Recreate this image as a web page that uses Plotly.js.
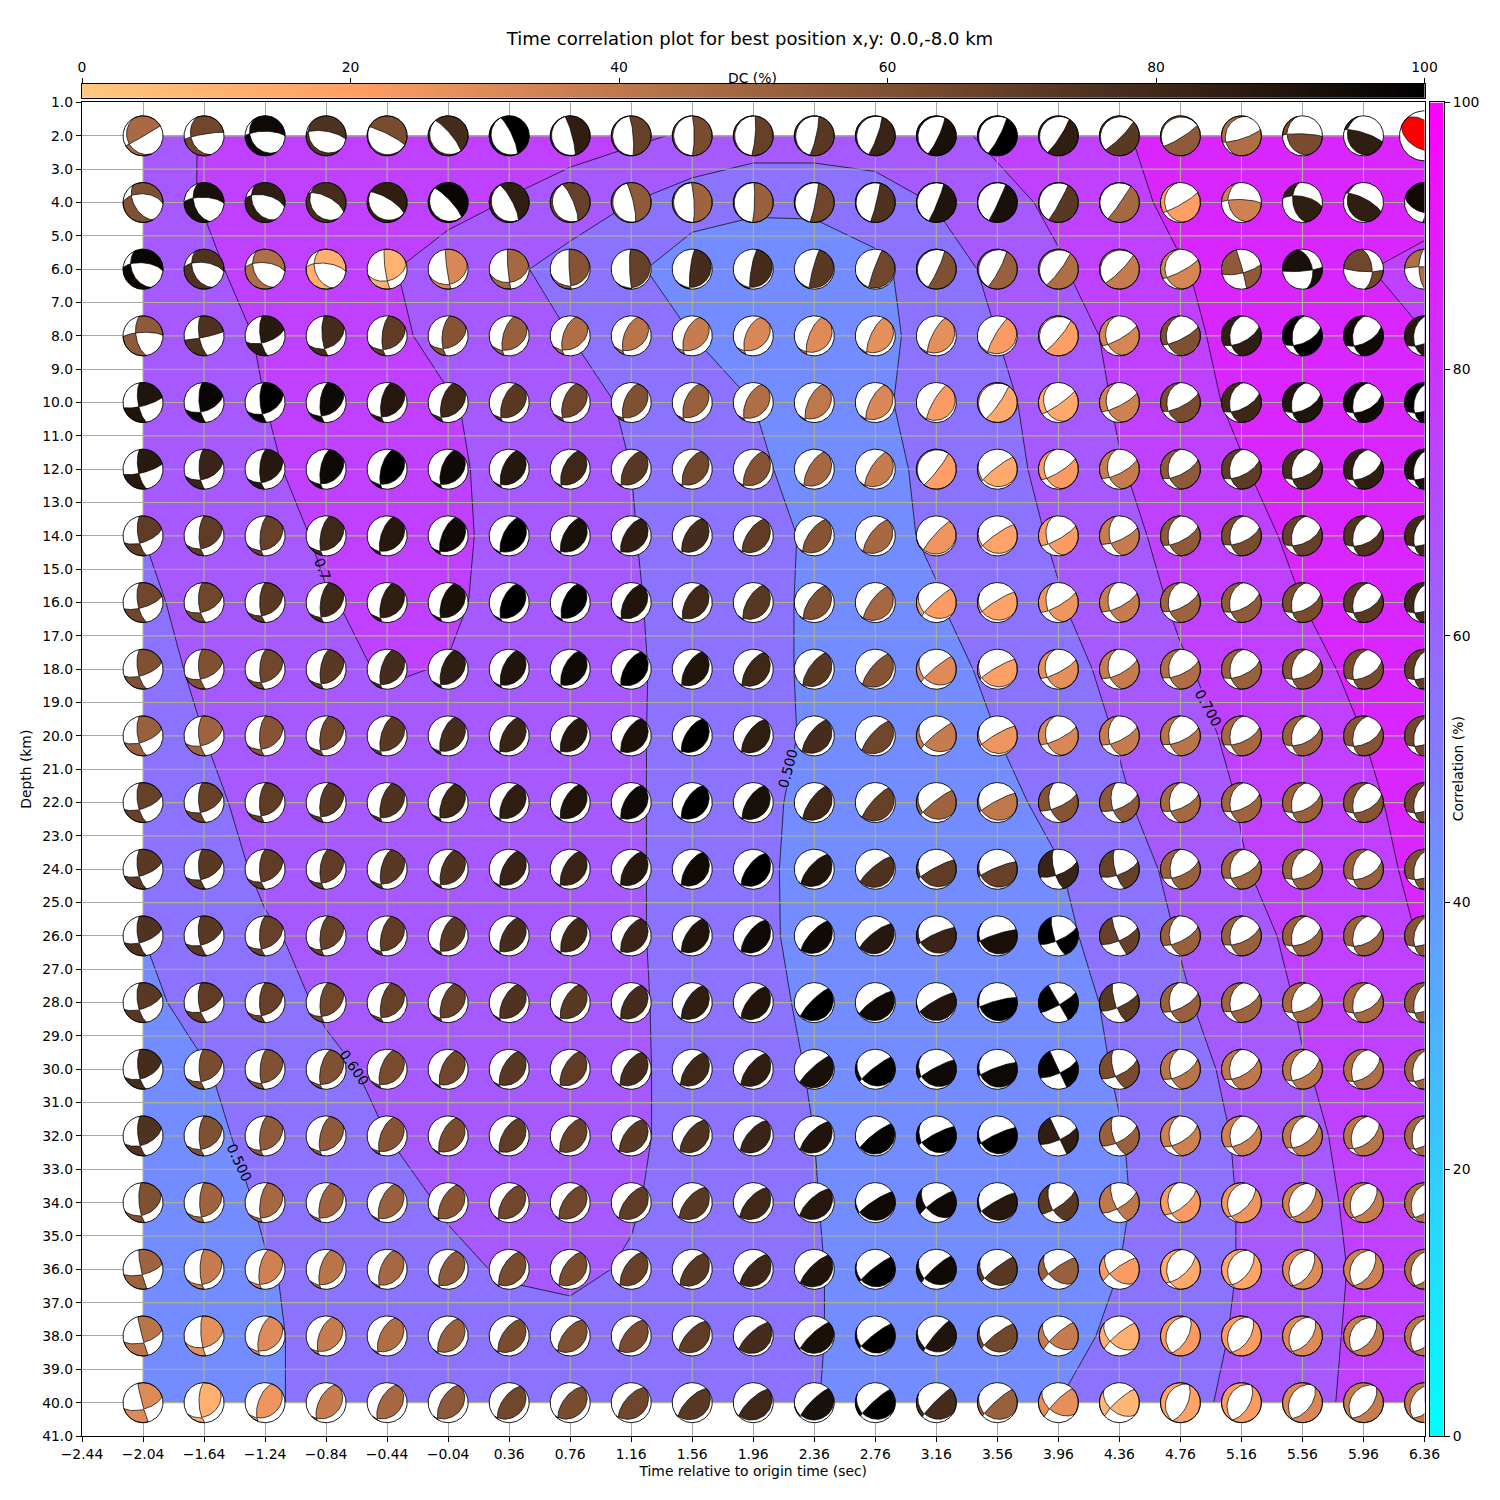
<!DOCTYPE html>
<html><head><meta charset="utf-8">
<script src="https://cdn.plot.ly/plotly-3.0.1.min.js"></script>
<style>html,body{margin:0;padding:0;background:#fff}</style></head>
<body><div id="chart" style="width:1500px;height:1500px"></div>
<script>
const timeSec=[-2.04,-1.64,-1.24,-0.84,-0.44,-0.04,0.36,0.76,1.16,1.56,1.96,2.36,2.76,3.16,3.56,3.96,4.36,4.76,5.16,5.56,5.96,6.36];
const depthKm=[2,4,6,8,10,12,14,16,18,20,22,24,26,28,30,32,34,36,38,40];
// correlation (0-1)
const corr=[
[.66,.705,.74,.75,.76,.76,.75,.74,.72,.685,.655,.655,.654,.67,.72,.76,.795,.82,.84,.85,.85,.86],
[.665,.705,.76,.775,.78,.735,.695,.655,.60,.55,.52,.52,.553,.605,.67,.72,.775,.82,.85,.86,.85,.84],
[.65,.68,.74,.755,.71,.65,.62,.56,.52,.438,.43,.44,.476,.56,.62,.69,.76,.795,.83,.85,.805,.77],
[.65,.68,.705,.75,.73,.66,.63,.60,.55,.50,.44,.44,.47,.54,.60,.66,.72,.77,.84,.85,.84,.802],
[.64,.67,.70,.745,.75,.71,.655,.64,.585,.55,.50,.445,.485,.535,.58,.64,.71,.77,.815,.85,.85,.85],
[.62,.65,.69,.725,.75,.72,.665,.635,.60,.55,.515,.47,.47,.525,.575,.625,.695,.745,.795,.84,.85,.86],
[.60,.63,.66,.715,.75,.73,.66,.63,.605,.55,.525,.49,.48,.51,.565,.61,.675,.73,.77,.82,.85,.86],
[.585,.625,.65,.695,.72,.72,.66,.63,.61,.56,.53,.485,.465,.495,.55,.595,.65,.715,.755,.80,.84,.86],
[.58,.61,.63,.67,.71,.695,.655,.63,.615,.56,.53,.485,.455,.47,.52,.575,.62,.69,.735,.775,.82,.84],
[.55,.60,.62,.64,.665,.675,.65,.625,.615,.555,.525,.49,.45,.45,.50,.555,.605,.66,.725,.76,.80,.83],
[.53,.59,.615,.63,.65,.66,.645,.625,.615,.555,.52,.48,.45,.445,.475,.525,.59,.64,.705,.745,.79,.82],
[.515,.56,.615,.625,.635,.645,.64,.625,.615,.555,.515,.48,.44,.44,.445,.495,.565,.62,.695,.735,.78,.815],
[.50,.53,.59,.625,.63,.635,.63,.625,.615,.555,.52,.475,.435,.43,.43,.475,.55,.605,.665,.725,.77,.805],
[.48,.53,.57,.61,.625,.63,.625,.62,.62,.555,.525,.485,.435,.425,.425,.46,.52,.59,.64,.71,.75,.79],
[.46,.495,.54,.585,.615,.63,.63,.625,.62,.56,.525,.495,.43,.42,.42,.445,.51,.565,.625,.695,.735,.77],
[.45,.48,.525,.55,.60,.625,.63,.625,.62,.56,.52,.50,.435,.42,.42,.43,.495,.555,.61,.685,.72,.75],
[.44,.46,.51,.535,.565,.61,.625,.625,.61,.55,.52,.505,.44,.42,.42,.42,.49,.55,.605,.67,.72,.74],
[.43,.45,.495,.52,.55,.58,.61,.62,.59,.54,.515,.51,.45,.425,.425,.43,.50,.55,.605,.66,.715,.735],
[.42,.44,.49,.52,.53,.545,.56,.57,.56,.54,.52,.51,.45,.43,.43,.46,.525,.565,.61,.665,.72,.73],
[.42,.44,.49,.52,.53,.54,.55,.55,.545,.535,.52,.505,.45,.43,.45,.50,.54,.57,.625,.67,.725,.74]];
// DC percentage (null = best solution, drawn red)
const dcPct=[
[47,65,95,75,62,78,100,85,68,62,68,72,82,92,100,85,72,55,45,62,85,null],
[60,92,85,78,85,97,85,68,55,50,52,65,75,90,92,72,48,20,35,85,85,95],
[97,75,45,12,10,32,48,58,68,78,78,72,65,60,52,45,38,33,55,92,65,45],
[55,75,87,78,70,58,52,45,42,38,32,30,28,28,22,20,33,60,85,100,95,88],
[90,97,100,95,88,80,72,65,60,52,45,40,32,22,15,15,35,62,80,90,95,100],
[87,82,88,95,100,95,88,80,72,65,58,48,38,20,15,22,38,55,70,78,85,92],
[70,70,68,80,88,95,100,92,85,78,70,58,48,25,18,22,38,55,62,68,75,80],
[65,65,72,80,85,92,100,98,90,80,72,60,48,22,18,25,38,50,55,62,72,80],
[60,60,65,72,78,85,90,95,100,90,80,72,58,30,20,28,38,45,52,58,62,70],
[52,50,58,65,72,78,82,88,92,100,85,78,65,38,25,32,38,42,48,52,58,65],
[68,68,70,72,75,80,85,90,95,100,92,80,68,50,40,58,55,48,50,52,58,65],
[72,72,70,70,72,75,82,82,88,95,100,90,75,70,68,82,68,52,50,52,52,60],
[75,72,68,68,70,72,78,80,82,90,95,95,88,82,92,100,68,52,52,52,52,58],
[72,70,68,65,68,68,75,72,78,85,90,100,95,90,100,100,72,52,50,48,48,55],
[78,62,60,60,62,65,72,70,78,80,85,92,100,95,95,98,62,42,40,42,45,50],
[75,60,55,55,58,62,70,68,72,75,82,90,98,100,100,85,52,35,35,40,42,48],
[60,50,48,50,52,58,65,65,70,72,80,88,95,95,88,72,40,22,25,35,38,45],
[50,38,35,42,48,55,62,62,68,72,80,90,100,95,72,52,22,15,18,30,35,45],
[42,28,30,38,45,52,62,60,62,70,78,92,100,90,65,38,12,22,22,30,38,42],
[30,12,25,38,48,55,65,62,65,72,80,92,100,78,52,28,8,18,22,32,38,40]];
// azimuth (deg clockwise from up) where a coloured lobe begins
const lobeStartAz=[
[335,340,325,310,300,320,335,345,355,0,5,13,20,25,28,33,45,58,72,92,108,292],
[330,342,330,325,305,320,335,340,350,0,5,15,17,25,28,32,38,60,92,102,118,285],
[335,335,335,340,352,352,355,357,358,7,10,15,20,25,28,37,45,62,76,85,93,272],
[350,350,352,355,5,5,15,18,20,22,22,22,25,27,30,40,60,63,62,65,62,62],
[350,355,355,5,10,15,20,18,20,22,25,25,28,30,35,55,62,63,63,65,65,65],
[350,358,2,10,15,18,22,24,27,27,28,30,32,38,52,58,62,62,63,65,63,63],
[350,0,5,10,18,22,25,27,30,30,33,35,37,42,55,60,65,62,65,65,65,65],
[350,355,0,8,15,18,22,22,27,27,30,33,37,47,58,60,62,63,63,65,65,65],
[350,355,2,8,15,18,22,25,30,30,33,35,40,50,60,62,62,65,65,65,65,65],
[350,355,2,8,15,20,25,27,30,32,35,37,42,50,60,63,63,65,65,65,65,65],
[350,355,2,8,15,20,25,27,30,32,33,35,42,52,62,65,65,65,65,65,65,65],
[350,355,0,5,12,18,25,27,30,32,37,42,50,62,68,68,68,65,65,65,65,65],
[350,352,0,5,12,18,25,25,30,32,37,42,52,65,72,65,65,62,65,65,65,65],
[350,352,0,5,12,18,25,27,30,32,37,45,55,60,75,60,65,62,65,65,65,65],
[352,358,3,12,18,22,27,28,32,35,38,48,52,62,70,65,62,60,60,58,55,55],
[352,0,5,12,20,25,28,30,35,37,40,45,52,62,65,65,60,58,58,55,52,50],
[355,0,8,15,22,27,30,33,37,40,42,47,57,55,60,55,58,52,45,42,42,42],
[348,0,10,15,20,25,30,32,32,37,42,45,52,48,52,55,55,48,38,35,35,35],
[345,355,15,20,25,30,33,37,37,42,47,47,52,40,52,48,50,30,35,40,40,40],
[345,358,20,27,28,30,35,37,40,45,47,45,48,45,48,45,48,25,30,38,40,40]];
// signed radius of the lobe's first nodal curve at its widest
const curveBulge=[
[.8,.65,.7,.8,.93,-.15,-.15,-.1,-.1,-.1,-.1,-.1,-.1,-.12,-.1,-.1,-.1,-.1,-.15,.1,.15,.55],
[.45,.5,.6,.75,.85,.9,.88,.88,.92,.93,.95,.96,.96,.96,.97,.96,.97,-.1,.15,.3,.2,.5],
[.55,.55,.55,.55,.1,.06,.06,.05,.08,.1,.1,.07,.06,-.08,-.1,-.1,-.1,-.12,-.2,-.1,-.12,-.12],
[.35,.25,.25,.2,.25,.3,.3,.35,.35,.37,.37,.25,.22,.2,.12,-.1,-.15,-.17,-.3,-.35,-.35,-.35],
[.25,.25,.25,.3,.3,.33,.33,.35,.35,.37,.35,.3,.25,.15,-.1,-.1,-.15,-.2,-.3,-.37,-.4,-.4],
[.25,.25,.27,.28,.3,.33,.33,.35,.35,.35,.3,.28,.22,-.08,.1,-.15,-.2,-.25,-.3,-.37,-.4,-.4],
[.25,.25,.25,.28,.3,.3,.3,.32,.33,.33,.3,.28,.25,.1,.1,-.15,-.2,-.25,-.3,-.37,-.4,-.4],
[.27,.27,.27,.28,.3,.33,.35,.35,.35,.33,.3,.28,.2,.1,.1,-.15,-.2,-.25,-.3,-.37,-.4,-.4],
[.27,.27,.27,.28,.3,.32,.33,.33,.32,.32,.3,.25,.2,.1,.1,-.15,-.22,-.25,-.3,-.37,-.4,-.4],
[.27,.27,.28,.3,.3,.32,.33,.33,.32,.32,.3,.25,.2,.1,.1,-.15,-.22,-.25,-.3,-.37,-.4,-.4],
[.27,.27,.28,.3,.3,.32,.33,.33,.32,.32,.3,.22,.15,.1,.1,-.2,-.27,-.27,-.3,-.37,-.4,-.4],
[.27,.27,.28,.3,.3,.32,.32,.33,.33,.3,.28,.25,.15,.1,.1,-.25,-.25,-.3,-.3,-.37,-.4,-.4],
[.27,.27,.28,.3,.3,.32,.33,.33,.33,.3,.28,.22,.18,.12,.1,-.2,-.22,-.25,-.3,-.37,-.4,-.4],
[.27,.27,.28,.3,.3,.32,.33,.33,.33,.3,.28,.15,.15,.12,.1,-.12,-.2,-.25,-.3,-.37,-.4,-.4],
[.25,.25,.25,.28,.32,.33,.33,.33,.33,.3,.27,.12,.1,.1,.1,-.2,-.25,-.28,-.3,-.37,-.4,-.4],
[.25,.25,.27,.3,.33,.33,.33,.33,.33,.3,.28,.25,.12,.12,.1,-.2,-.25,-.28,-.33,-.38,-.4,-.4],
[.2,.22,.25,.3,.33,.33,.35,.33,.3,.3,.28,.25,.12,.12,.1,-.18,-.22,-.25,-.33,-.38,-.4,-.4],
[.1,.2,.28,.3,.33,.33,.33,.33,.33,.3,.25,.2,.1,.12,.1,.13,.13,-.3,-.38,-.42,-.42,-.42],
[.05,.15,.3,.35,.35,.33,.33,.33,.32,.27,.2,.15,.1,.1,.12,.13,.13,-.35,-.4,-.42,-.42,-.42],
[.05,.25,.33,.35,.35,.35,.33,.33,.3,.25,.2,.15,.1,.08,.1,.13,.13,-.35,-.4,-.42,-.42,-.42]];
// azimuth where that lobe ends
const lobeEndAz=[
[60,80,90,100,119,139,153,165,175,178,184,193,199,206,208,213,224,237,195,165,165,318],
[93,92,103,118,122,141,153,163,171,178,184,194,198,203,208,212,218,170,165,170,160,5],
[95,97,96,97,73,72,78,75,50,57,60,65,70,204,208,217,225,175,165,168,176,358],
[88,78,72,65,65,65,62,60,57,55,55,55,57,58,70,219,170,178,183,185,185,185],
[75,70,65,62,60,58,55,55,52,52,50,50,50,60,214,160,170,180,185,190,192,192],
[75,70,63,60,58,55,52,50,50,50,50,48,50,216,110,170,172,180,185,190,192,192],
[70,65,62,60,57,55,52,50,48,47,47,47,45,80,113,165,170,180,185,190,192,192],
[72,68,62,60,57,55,50,50,47,47,47,47,48,120,116,165,170,180,185,190,192,192],
[70,68,63,60,57,55,50,50,48,47,45,47,47,125,118,170,172,180,185,190,192,192],
[70,68,62,60,57,55,50,50,47,47,45,47,50,125,118,170,172,180,185,190,192,192],
[70,68,62,60,57,55,50,50,47,47,45,47,50,120,120,168,170,180,185,190,192,192],
[70,67,63,60,58,55,52,50,47,47,47,50,60,125,125,165,165,180,185,190,192,192],
[70,67,62,60,57,55,52,50,47,47,47,52,58,125,128,160,158,175,185,190,192,192],
[70,67,62,60,57,55,52,50,47,47,47,60,65,90,130,150,160,175,185,190,192,192],
[67,65,63,58,55,52,50,47,47,47,48,60,120,130,127,155,162,175,182,190,192,192],
[67,63,60,58,53,50,48,47,47,47,48,52,75,130,122,155,160,175,182,190,192,192],
[65,62,58,55,50,48,47,47,47,47,50,58,100,135,118,155,155,170,190,195,195,195],
[75,60,58,55,50,48,47,47,47,47,50,55,110,120,125,135,135,185,195,200,200,200],
[73,72,58,52,50,48,47,48,48,52,58,80,115,110,120,128,130,195,200,200,205,205],
[73,55,55,47,47,47,47,48,50,55,60,80,115,118,115,125,128,205,205,205,210,210]];
const dcTicks=[0,20,40,60,80,100];
const corrTicks=[0,20,40,60,80,100];

const xLo=-2.44,xHi=6.36,yTop=1,yBot=41;
const plotW=1343,plotH=1334;
// page pixels of the full plotting frame (main axes + both colour bars)
const frameL=81.5,frameR=1444,frameT=83.5,frameB=1436;
const frameW=frameR-frameL,frameH=frameB-frameT;
const px2x=p=>(p-frameL)/frameW, py2y=p=>(frameB-p)/frameH;
const pxT=p=>xLo+(p-81.5)*(xHi-xLo)/plotW, pxD=p=>yTop+(p-102)*(yBot-yTop)/plotH;
const rad=Math.PI/180;
const copperR=p=>{const t=1-p/100;return `rgb(${Math.round(255*Math.min(1,1.25*t))},${Math.round(199.2*t)},${Math.round(126.9*t)})`;};
const cross=(a,b)=>[a[1]*b[2]-a[2]*b[1],a[2]*b[0]-a[0]*b[2],a[0]*b[1]-a[1]*b[0]];
const unit=a=>{const n=Math.hypot(a[0],a[1],a[2])||1;return a.map(v=>v/n);};
const dot=(a,b)=>a[0]*b[0]+a[1]*b[1]+a[2]*b[2];
const hor=az=>[Math.sin(az*rad),Math.cos(az*rad),0];
function proj(v){const H=Math.hypot(v[0],v[1]);const r=Math.sqrt(Math.max(0,1-v[2]));return H<1e-9?[0,0]:[v[0]/H*r,v[1]/H*r];}
function arc(P,Q,n){const th=Math.acos(Math.min(1,Math.max(-1,dot(P,Q))));const s=Math.sin(th)||1e-9;const out=[];
  for(let k=0;k<=n;k++){const t=k/n;const a=Math.sin((1-t)*th)/s,b=Math.sin(t*th)/s;out.push(proj(unit([a*P[0]+b*Q[0],a*P[1]+b*Q[1],a*P[2]+b*Q[2]])));}return out;}
function ballPolys(e1,b,e2in){
  // nodal planes must not share both ends: keep the lobe under a half turn
  const sp=((e2in-e1)%360+360)%360; const e2=sp>177?e1+177:e2in;
  const a=b>=0?e1-90:e1+90,r=Math.abs(b),D=1-r*r,H=Math.sqrt(Math.max(0,1-D*D));
  const M=[Math.sin(a*rad)*H,Math.cos(a*rad)*H,D];
  const n1=unit(cross(hor(e1),M));
  const n2=unit(cross(n1,hor(e2)));
  let B=unit(cross(n1,n2)); if(B[2]<0)B=B.map(v=>-v);
  const lobe=(s,e)=>{let pts=[];let span=((e-s)%360+360)%360;const m=Math.max(2,Math.ceil(span/5));
    for(let k=0;k<=m;k++){const z=s+span*k/m;pts.push([Math.sin(z*rad),Math.cos(z*rad)]);}
    pts=pts.concat(arc(hor(e),B,24),arc(B,hor(s),24));return pts;};
  return [lobe(e1,e2),lobe(e1+180,e2+180)];
}
const traces=[];
traces.push({type:'contour',x:timeSec,y:depthKm,z:corr,autocontour:false,
  contours:{start:0,end:1,size:0.1,coloring:'fill',showlines:true},
  colorscale:[[0,'rgb(0,255,255)'],[0.04545,'rgb(0,255,255)'],[0.95455,'rgb(255,0,255)'],[1,'rgb(255,0,255)']],
  line:{color:'#101010',width:0.8,smoothing:0},showscale:false,hoverinfo:'skip'});
const gx=[],gy=[];
for(let i=0;i<timeSec.length;i++){gx.push(timeSec[i],timeSec[i],null);gy.push(2,40,null);}
for(let d=2;d<=40;d++){gx.push(-2.04,6.36,null);gy.push(d,d,null);}
traces.push({type:'scatter',mode:'lines',x:gx,y:gy,line:{color:'#acb192',width:1.1},hoverinfo:'skip',showlegend:false});
// gaps in the contour lines behind their labels
const gapSegs=[[319,558,330,580,'#b34cff'],[793.6,748,786,788,'#7f80ff'],[1201,688,1215,728,'#b34cff'],[343,1050,367,1086,'#9966ff'],[233,1145,245,1181,'#7f80ff']];
gapSegs.forEach(g=>traces.push({type:'scatter',mode:'lines',x:[pxT(g[0]),pxT(g[2])],y:[pxD(g[1]),pxD(g[3])],line:{color:g[4],width:2.6},hoverinfo:'skip',showlegend:false}));
const discX=[],discY=[];
const balls=[];
depthKm.forEach((d,ir)=>timeSec.forEach((t,ic)=>{
  const isBest=dcPct[ir][ic]===null,R=isBest?25:20;
  const rx=R*(xHi-xLo)/plotW,ry=R*(yBot-yTop)/plotH;
  for(let k=0;k<=72;k++){discX.push(t+rx*Math.sin(k*5*rad));discY.push(d-ry*Math.cos(k*5*rad));}
  discX.push(null);discY.push(null);
  const ps=ballPolys(lobeStartAz[ir][ic],curveBulge[ir][ic],lobeEndAz[ir][ic]);
  const xs=[],ys=[];
  ps.forEach(p=>{p.forEach(q=>{xs.push(t+rx*q[0]);ys.push(d-ry*q[1]);});xs.push(null);ys.push(null);});
  balls.push({type:'scatter',mode:'lines',x:xs,y:ys,fill:'toself',fillcolor:isBest?'#ff0000':copperR(dcPct[ir][ic]),
    line:{color:'#000',width:0.7},hoverinfo:'skip',showlegend:false});
}));
traces.push({type:'scatter',mode:'lines',x:discX,y:discY,fill:'toself',fillcolor:'#fff',line:{color:'#000',width:0},hoverinfo:'skip',showlegend:false});
balls.forEach(b=>traces.push(b));
traces.push({type:'scatter',mode:'lines',x:discX,y:discY,line:{color:'#000',width:0.9},hoverinfo:'skip',showlegend:false});
// colour bars as small heatmaps on their own axes
const ramp=[];for(let k=0;k<=200;k++)ramp.push(k/2);
const copperScale=[];for(let k=0;k<=20;k++)copperScale.push([k/20,copperR(k*5)]);
traces.push({type:'heatmap',x:ramp,y:[0,1],z:[ramp,ramp],xaxis:'x2',yaxis:'y2',zmin:0,zmax:100,colorscale:copperScale,showscale:false,zsmooth:'best',hoverinfo:'skip'});
traces.push({type:'heatmap',y:ramp,x:[0,1],z:ramp.map(v=>[v,v]),xaxis:'x3',yaxis:'y3',zmin:0,zmax:100,colorscale:[[0,'rgb(0,255,255)'],[1,'rgb(255,0,255)']],showscale:false,zsmooth:'best',hoverinfo:'skip'});
const font={family:'DejaVu Sans',size:13.9,color:'#000'};
const xTicks=[];for(let i=0;i<23;i++)xTicks.push(+(xLo+0.4*i).toFixed(2));
const yTicks=[];for(let d=1;d<=41;d++)yTicks.push(d);
const axis={showline:true,mirror:true,linecolor:'#000',linewidth:1.2,ticks:'outside',ticklen:5,tickwidth:1,tickcolor:'#000',
  showgrid:true,gridcolor:'#a8a8a8',gridwidth:1.1,zeroline:false,tickfont:font};
const barAxis={showline:true,mirror:true,linecolor:'#000',linewidth:1.1,zeroline:false,showgrid:false};
const xDom=[0,(1424.5-frameL)/frameW],yDom=[0,(frameB-102)/frameH];
const lab=(text,px,py,ang)=>({text,x:pxT(px),y:pxD(py),xref:'x',yref:'y',xanchor:'center',yanchor:'middle',showarrow:false,textangle:ang,font:font});
const layout={width:1500,height:1500,autosize:false,paper_bgcolor:'#fff',plot_bgcolor:'#fff',showlegend:false,
  margin:{l:frameL,r:1500-frameR,t:frameT,b:1500-frameB,pad:0},font:font,
  title:{text:'Time correlation plot for best position x,y: 0.0,-8.0 km',xref:'container',x:0.5,xanchor:'center',yref:'container',y:1-38.5/1500,yanchor:'middle',font:{family:'DejaVu Sans',size:18.06,color:'#000'}},
  xaxis:Object.assign({},axis,{domain:xDom,range:[xLo,xHi],tickmode:'array',tickvals:xTicks,tickformat:'.2f',anchor:'y',
    title:{text:'Time relative to origin time (sec)',font:font,standoff:5}}),
  yaxis:Object.assign({},axis,{domain:yDom,range:[yBot,yTop],tickmode:'array',tickvals:yTicks,tickformat:'.1f',anchor:'x',
    title:{text:'Depth (km)',font:font,standoff:7}}),
  xaxis2:Object.assign({},barAxis,{domain:xDom,range:[0,100],anchor:'y2',side:'top',ticks:'outside',ticklen:5,tickwidth:1,tickcolor:'#000',tickmode:'array',tickvals:dcTicks,tickfont:font}),
  yaxis2:Object.assign({},barAxis,{domain:[py2y(97.3),1],range:[0,1],anchor:'x2',ticks:'',showticklabels:false}),
  xaxis3:Object.assign({},barAxis,{domain:[px2x(1429.5),1],range:[0,1],anchor:'y3',ticks:'',showticklabels:false}),
  yaxis3:Object.assign({},barAxis,{domain:yDom,range:[0,100],anchor:'x3',side:'right',ticks:'outside',ticklen:5,tickwidth:1,tickcolor:'#000',tickmode:'array',tickvals:corrTicks,tickfont:font}),
  annotations:[lab('0.7',322,569,70),lab('0.500',788,768,-75),lab('0.700',1208,708,61),lab('0.600',354,1068,55),lab('0.500',239,1163,65),
    {text:'DC (%)',xref:'paper',yref:'paper',x:px2x(752),y:py2y(77),xanchor:'center',yanchor:'middle',showarrow:false,font:font},
    {text:'Correlation (%)',xref:'paper',yref:'paper',x:px2x(1458),y:py2y(768),xanchor:'center',yanchor:'middle',showarrow:false,textangle:-90,font:font}]
};
Plotly.newPlot('chart',traces,layout,{displayModeBar:false,responsive:false});
</script></body></html>
